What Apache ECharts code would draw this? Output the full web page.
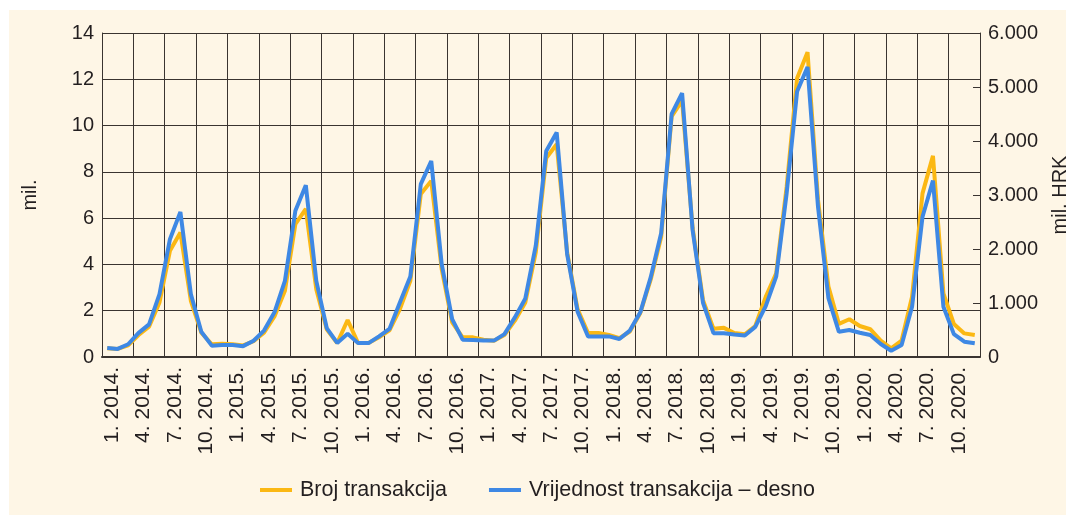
<!DOCTYPE html>
<html>
<head>
<meta charset="utf-8">
<script src="https://cdn.jsdelivr.net/npm/echarts@6/dist/echarts.min.js"></script>
<style>
  html, body { margin: 0; padding: 0; width: 100%; height: 100%; overflow: hidden; background: #fff; }
  #chart { width: 100%; height: 100%; }
</style>
</head>
<body>
<div id="chart"></div>
<script>
  /** 月份类别: 1. 2014. ... 12. 2020. */
  const years = [2014, 2015, 2016, 2017, 2018, 2019, 2020]
  const months = []
  years.forEach(y => {
    for (let m = 1; m <= 12; m++) months.push(m + '. ' + y + '.')
  })

  /** Broj transakcija (mil.) - lijeva os */
  const brojTransakcija = [
    0.38, 0.35, 0.50, 0.95, 1.31, 2.36, 4.59, 5.38, 2.43, 1.05, 0.55, 0.57,
    0.55, 0.50, 0.68, 1.05, 1.75, 2.86, 5.74, 6.40, 2.93, 1.20, 0.60, 1.60,
    0.60, 0.60, 0.85, 1.15, 2.07, 3.29, 7.04, 7.61, 3.80, 1.50, 0.85, 0.85,
    0.75, 0.70, 0.95, 1.57, 2.36, 4.52, 8.60, 9.19, 4.52, 2.07, 1.04, 1.04,
    0.95, 0.81, 1.10, 1.90, 3.35, 5.20, 10.40, 11.08, 5.60, 2.46, 1.22, 1.26,
    1.04, 0.98, 1.34, 2.60, 3.62, 7.35, 12.04, 13.17, 6.80, 3.04, 1.43, 1.63,
    1.34, 1.20, 0.71, 0.37, 0.71, 2.61, 7.07, 8.69, 2.75, 1.43, 1.02, 0.95
  ]

  /** Vrijednost transakcija (mil. HRK) - desna os */
  const vrijednostTransakcija = [
    167, 150, 236, 446, 604, 1166, 2181, 2687, 1166, 467, 210, 223,
    223, 201, 300, 489, 827, 1410, 2709, 3180, 1410, 536, 261, 429,
    257, 257, 381, 519, 1011, 1491, 3201, 3630, 1719, 703, 321, 313,
    304, 304, 424, 733, 1084, 2061, 3814, 4157, 1907, 840, 381, 381,
    381, 334, 489, 827, 1479, 2297, 4500, 4886, 2357, 1003, 441, 441,
    416, 399, 557, 943, 1487, 3030, 4916, 5370, 2786, 1089, 467, 501,
    450, 407, 240, 116, 223, 930, 2597, 3266, 930, 424, 283, 253
  ]

  const leftTicks = [0, 2, 4, 6, 8, 10, 12, 14]
  const rightTicks = [0, 1000, 2000, 3000, 4000, 5000, 6000]

  const textColor = '#231f20'
  const gridColor = '#3a3430'
  const font = 'Liberation Sans, Arial, sans-serif'

  const chart = echarts.init(document.getElementById('chart'))
  chart.setOption({
    backgroundColor: 'transparent',
    animation: false,
    textStyle: { fontFamily: font, color: textColor },
    graphic: [
      {
        type: 'rect',
        left: 9,
        top: 10,
        shape: { width: 2000, height: 1000 },
        style: { fill: '#fef6e6' },
        z: -10
      }
    ],
    /** 不让标签挤压绘图区 */
    grid: { left: 102, right: 86, top: 33, bottom: 158, containLabel: false, outerBoundsMode: 'none' },
    legend: {
      top: 474,
      left: 255,
      icon: 'rect',
      itemWidth: 32,
      itemHeight: 4,
      itemGap: 42,
      textStyle: { fontFamily: font, fontSize: 21.5, color: textColor, padding: [0, 0, 0, 3] },
      data: ['Broj transakcija', 'Vrijednost transakcija – desno']
    },
    xAxis: {
      type: 'category',
      data: months,
      boundaryGap: true,
      axisLine: { lineStyle: { color: gridColor, width: 2 } },
      axisTick: { show: false },
      splitLine: { show: true, interval: 2, lineStyle: { color: gridColor, width: 1 } },
      axisLabel: {
        interval: 2,
        rotate: 90,
        margin: 10,
        fontSize: 21,
        color: textColor,
        fontFamily: font,
        verticalAlign: 'top',
        lineHeight: 10
      }
    },
    yAxis: [
      {
        type: 'value',
        min: leftTicks[0],
        max: leftTicks[leftTicks.length - 1],
        interval: 2,
        name: 'mil.',
        nameLocation: 'middle',
        nameRotate: 90,
        nameGap: 62,
        nameTextStyle: { fontSize: 20, color: textColor, fontFamily: font },
        axisLine: { show: true, lineStyle: { color: gridColor, width: 1 } },
        axisTick: { show: false },
        splitLine: { show: true, lineStyle: { color: gridColor, width: 1 } },
        axisLabel: { fontSize: 20, color: textColor, margin: 8, fontFamily: font }
      },
      {
        type: 'value',
        position: 'right',
        min: rightTicks[0],
        max: rightTicks[rightTicks.length - 1],
        interval: 1000,
        name: 'mil. HRK',
        nameLocation: 'middle',
        nameRotate: 90,
        nameGap: 70,
        nameTextStyle: { fontSize: 20, color: textColor, fontFamily: font },
        axisLine: { show: true, lineStyle: { color: gridColor, width: 1 } },
        axisTick: { show: true, inside: true, length: 7, lineStyle: { color: gridColor } },
        splitLine: { show: false },
        axisLabel: {
          fontSize: 20,
          color: textColor,
          margin: 8,
          fontFamily: font,
          formatter: v => v === 0 ? '0' : String(v).replace(/\B(?=(\d{3})+(?!\d))/g, '.')
        }
      }
    ],
    series: [
      {
        name: 'Broj transakcija',
        type: 'line',
        yAxisIndex: 0,
        data: brojTransakcija,
        symbol: 'none',
        color: '#fbb813',
        lineStyle: { width: 4, color: '#fbb813' }
      },
      {
        name: 'Vrijednost transakcija – desno',
        type: 'line',
        yAxisIndex: 1,
        data: vrijednostTransakcija,
        symbol: 'none',
        color: '#3e88e4',
        lineStyle: { width: 4, color: '#3e88e4' }
      }
    ]
  })
</script>
</body>
</html>
